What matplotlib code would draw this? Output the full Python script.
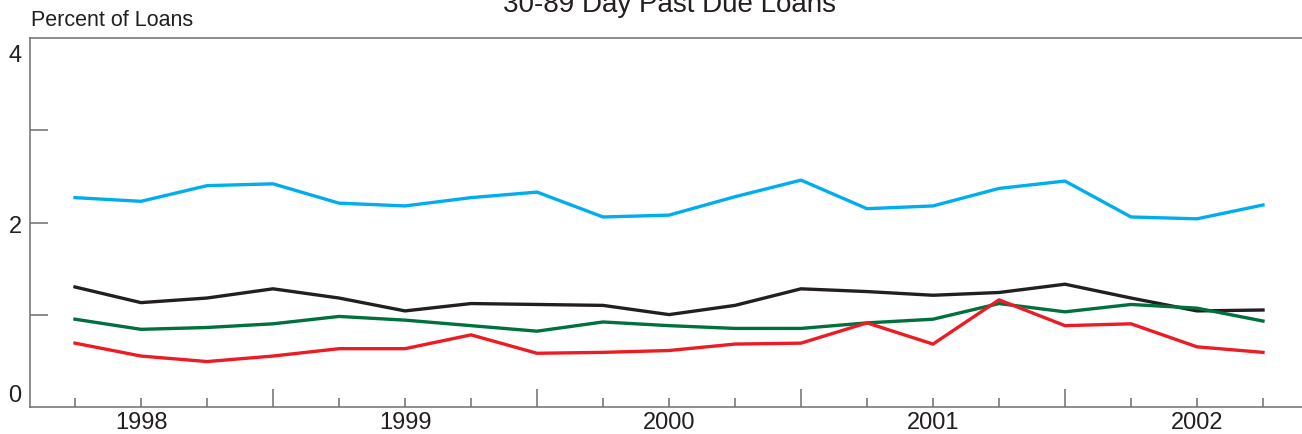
import numpy as np
import matplotlib
matplotlib.use("Agg")
import matplotlib.pyplot as plt
from matplotlib.ticker import FixedLocator, FuncFormatter, NullFormatter
from matplotlib.transforms import offset_copy

plt.rcParams['font.family'] = ['Liberation Sans', 'DejaVu Sans']

# quarter-end observations, 1998Q1 .. 2002Q3
years    = [1998]*4 + [1999]*4 + [2000]*4 + [2001]*4 + [2002]*3
quarters = [1, 2, 3, 4]*4 + [1, 2, 3]

blue  = [2.27, 2.23, 2.40, 2.42, 2.21, 2.18, 2.27, 2.33, 2.06, 2.08,
         2.28, 2.46, 2.15, 2.18, 2.37, 2.45, 2.06, 2.04, 2.19]
black = [1.30, 1.13, 1.18, 1.28, 1.18, 1.04, 1.12, 1.11, 1.10, 1.00,
         1.10, 1.28, 1.25, 1.21, 1.24, 1.33, 1.18, 1.04, 1.05]
green = [0.95, 0.84, 0.86, 0.90, 0.98, 0.94, 0.88, 0.82, 0.92, 0.88,
         0.85, 0.85, 0.91, 0.95, 1.12, 1.03, 1.11, 1.07, 0.93]
red   = [0.69, 0.55, 0.49, 0.55, 0.63, 0.63, 0.78, 0.58, 0.59, 0.61,
         0.68, 0.69, 0.91, 0.68, 1.16, 0.88, 0.90, 0.65, 0.59]

year_labels = [1998, 1999, 2000, 2001, 2002]
y_labels = [0, 2, 4]

t = np.array(years) + np.array(quarters) / 4.0

W, H = 1302, 434
fig = plt.figure(figsize=(W/100, H/100), dpi=100)
ax = fig.add_axes([30/W, 1 - 406.7/H, (W - 30)/W, (406.7 - 38.3)/H])

lw = 2.4
ax.plot(t, blue,  color='#00AEEF', lw=lw)
ax.plot(t, black, color='#231F20', lw=lw)
ax.plot(t, green, color='#00703C', lw=lw)
ax.plot(t, red,   color='#ED1C24', lw=lw)

ax.set_xlim(1998 + 21/264, 1998 + 1293/264)
ax.set_ylim(0, 4)

spc = '#6d6d6d'
for s in ['left', 'bottom', 'top']:
    ax.spines[s].set_color(spc)
    ax.spines[s].set_linewidth(1.1)
ax.spines['right'].set_visible(False)

# x ticks: tall at year boundaries, short at quarters, year label mid-year
ax.xaxis.set_major_locator(FixedLocator(year_labels[1:]))
ax.xaxis.set_major_formatter(NullFormatter())
qticks = [y + q/4 for y in year_labels for q in (1, 2, 3)]
ax.xaxis.set_minor_locator(FixedLocator(qticks))
ax.xaxis.set_minor_formatter(FuncFormatter(
    lambda v, p: str(int(v)) if abs(v - int(v) - 0.5) < 1e-6 else ''))
ax.tick_params(axis='x', which='major', direction='in', length=13,
               width=1.1, color=spc, top=False)
ax.tick_params(axis='x', which='minor', direction='in', length=6.5,
               width=1.1, color=spc, top=False, labelsize=17, pad=4,
               labelcolor='#231F20')

# y ticks: inward marks at 1,2,3, labels drawn separately
ax.set_yticks([1, 2, 3])
ax.set_yticklabels([])
ax.tick_params(axis='y', direction='in', length=13, width=1.1,
               color=spc, right=False)
offsets = {0: 11, 2: -5, 4: -18}
for v in y_labels:
    tr = offset_copy(ax.get_yaxis_transform(), fig=fig,
                     x=-6, y=offsets[v] * 0.72, units='points')
    ax.text(0, v, str(v), transform=tr, ha='right', va='center',
            fontsize=17, color='#231F20')

fig.text(31/W, 1 - 26.5/H, 'Percent of Loans', fontsize=15.5,
         color='#231F20', va='baseline', ha='left')
fig.text(669/W, 1 - 11.5/H, '30-89 Day Past Due Loans', fontsize=20,
         color='#231F20', va='baseline', ha='center')

fig.savefig('out.png', dpi=100)
